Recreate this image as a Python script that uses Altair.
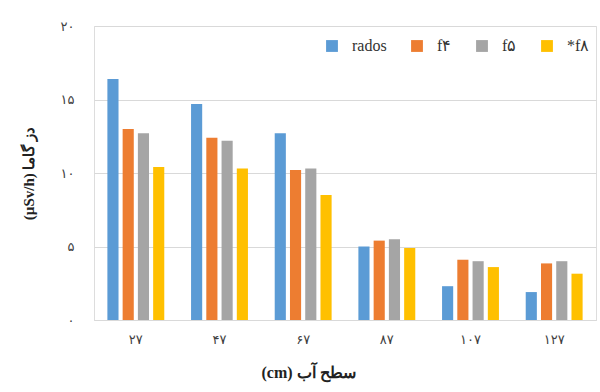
import altair as alt
import pandas as pd

# Water level categories (cm) and gamma dose series (µSv/h)
levels = ["۲۷", "۴۷", "۶۷", "۸۷", "۱۰۷", "۱۲۷"]
series = ["rados", "f۴", "f۵", "*f۸"]
rados = [16.4, 14.7, 12.7, 5.0, 2.3, 1.9]
f4 = [13.0, 12.4, 10.2, 5.4, 4.1, 3.85]
f5 = [12.7, 12.2, 10.3, 5.5, 4.0, 4.0]
f8 = [10.4, 10.3, 8.5, 4.9, 3.6, 3.15]
colors = ["#5B9BD5", "#ED7D31", "#A5A5A5", "#FFC000"]

y_ticks = [0, 5, 10, 15, 20]
y_tick_labels = ["۰", "۵", "۱۰", "۱۵", "۲۰"]

rows = []
for name, vals in zip(series, [rados, f4, f5, f8]):
    for lvl, v in zip(levels, vals):
        rows.append({"level": lvl, "series": name, "dose": v})
df = pd.DataFrame(rows)

# Persian digit labels for the y axis
label_expr = "''"
for v, lab in reversed(list(zip(y_ticks, y_tick_labels))):
    label_expr = f"datum.value == {v} ? '{lab}' : ({label_expr})"

persian_font = "DejaVu Sans"
latin_font = "'Liberation Serif', 'Times New Roman', serif"

chart = alt.Chart(df).mark_bar().encode(
    x=alt.X(
        "level:N",
        sort=levels,
        scale=alt.Scale(paddingInner=0.32, paddingOuter=0.16),
        axis=alt.Axis(
            title="(cm) سطح آب",
            titleFont=latin_font,
            titleFontSize=16,
            titleFontWeight="bold",
            titleColor="#222222",
            titlePadding=18,
            titleX=214,
            titleAnchor="start",
            titleAlign="center",
            labelAngle=0,
            labelFont=persian_font,
            labelFontSize=13,
            labelColor="#404040",
            labelPadding=13,
            ticks=False,
            domainColor="#d9d9d9",
            domainWidth=1,
            grid=False,
        ),
    ),
    xOffset=alt.XOffset(
        "series:N",
        sort=series,
        scale=alt.Scale(paddingInner=0.27, paddingOuter=0),
    ),
    y=alt.Y(
        "dose:Q",
        scale=alt.Scale(domain=[0, 20], nice=False),
        axis=alt.Axis(
            title="(µSv/h) دز گاما",
            titleFont=latin_font,
            titleFontSize=15,
            titleFontWeight="bold",
            titleColor="#222222",
            titlePadding=24,
            values=y_ticks,
            labelExpr=label_expr,
            labelFont=persian_font,
            labelFontSize=13,
            labelColor="#404040",
            labelPadding=20,
            ticks=False,
            domain=False,
            gridColor="#d9d9d9",
            gridWidth=1,
        ),
    ),
    color=alt.Color(
        "series:N",
        sort=series,
        scale=alt.Scale(domain=series, range=colors),
        legend=alt.Legend(
            title=None,
            orient="none",
            legendX=230,
            legendY=12,
            direction="horizontal",
            symbolType="square",
            symbolSize=140,
            symbolStrokeWidth=0,
            labelFont=latin_font,
            labelFontSize=16,
            labelColor="#333333",
            labelOffset=12,
            columnPadding=22,
        ),
    ),
).properties(
    width=502,
    height=294,
    padding={"left": 94, "top": 26, "right": 4, "bottom": 72},
    autosize=alt.AutoSizeParams(type="none"),
).configure_view(stroke=None).configure(background="white")

chart.save("out.html", embed_options={"renderer": "svg", "actions": False})
